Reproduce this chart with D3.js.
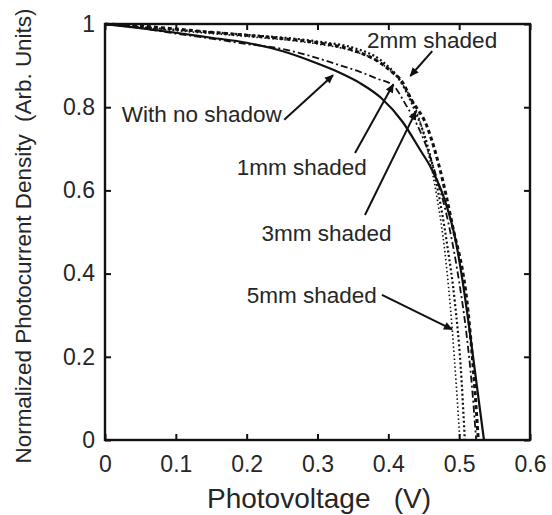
<!DOCTYPE html>
<html>
<head>
<meta charset="utf-8">
<script src="https://cdn.jsdelivr.net/npm/d3@7"></script>
<style>
  html, body { margin: 0; padding: 0; background: #ffffff; }
  svg { display: block; }
  text { font-family: "Liberation Sans", Arial, Helvetica, sans-serif; fill: #262626; }
</style>
</head>
<body>
<svg id="chart" width="552" height="515"></svg>
<script>
// Photovoltage (V) / normalized photocurrent density pairs for each shading case
const noShadow = [
  [0, 1], [0.05, 0.99], [0.1, 0.979], [0.15, 0.967], [0.2, 0.955], [0.25, 0.935],
  [0.3, 0.905], [0.33, 0.884], [0.36, 0.858], [0.39, 0.822], [0.42, 0.765],
  [0.445, 0.697], [0.46, 0.655], [0.48, 0.575], [0.495, 0.48], [0.505, 0.38],
  [0.515, 0.26], [0.525, 0.13], [0.535, 0]
];
const shaded1mm = [
  [0, 1], [0.05, 0.99], [0.1, 0.977], [0.15, 0.965], [0.2, 0.952], [0.25, 0.94],
  [0.3, 0.918], [0.333, 0.9], [0.36, 0.885], [0.385, 0.868], [0.407, 0.852],
  [0.425, 0.805], [0.44, 0.76], [0.455, 0.7], [0.47, 0.62], [0.485, 0.52],
  [0.5, 0.38], [0.51, 0.26], [0.518, 0.13], [0.524, 0]
];
const shaded2mm = [
  [0, 1], [0.05, 0.995], [0.1, 0.988], [0.15, 0.98], [0.2, 0.973], [0.25, 0.965],
  [0.3, 0.955], [0.35, 0.937], [0.39, 0.905], [0.405, 0.885], [0.42, 0.86],
  [0.432, 0.82], [0.455, 0.752], [0.473, 0.65], [0.49, 0.52], [0.5125, 0.31],
  [0.52, 0.17], [0.527, 0]
];
const shaded3mm = [
  [0, 1], [0.1, 0.986], [0.2, 0.974], [0.3, 0.958], [0.35, 0.943], [0.39, 0.912],
  [0.415, 0.868], [0.438, 0.79], [0.455, 0.71], [0.47, 0.6], [0.483, 0.47],
  [0.494, 0.33], [0.502, 0.18], [0.508, 0]
];
const shaded5mm = [
  [0, 1], [0.1, 0.984], [0.2, 0.97], [0.3, 0.952], [0.35, 0.935], [0.39, 0.905],
  [0.42, 0.855], [0.44, 0.79], [0.455, 0.7], [0.469, 0.58], [0.48, 0.45],
  [0.49, 0.27], [0.496, 0.13], [0.501, 0]
];

const xTicks = [0, 0.1, 0.2, 0.3, 0.4, 0.5, 0.6];
const xTickLabels = ["0", "0.1", "0.2", "0.3", "0.4", "0.5", "0.6"];
const yTicks = [0, 0.2, 0.4, 0.6, 0.8, 1];
const yTickLabels = ["0", "0.2", "0.4", "0.6", "0.8", "1"];

const seriesNames = ["With no shadow", "1mm shaded", "2mm shaded", "3mm shaded", "5mm shaded"];
const seriesData = [noShadow, shaded1mm, shaded2mm, shaded3mm, shaded5mm];

// Line styling per series
const styles = [
  { width: 2.2, dash: null },
  { width: 1.8, dash: "7,3,2,3" },
  { width: 3, dash: "4,3" },
  { width: 2.2, dash: "2,2.5" },
  { width: 1.6, dash: "1.5,2.5" }
];

// Annotation labels: text baseline start in data units, arrow from/to in data units
const annotations = [
  { series: 0, text: "With no shadow", at: [0.0235, 0.764], from: [0.253, 0.77], to: [0.322, 0.877] },
  { series: 2, text: "2mm shaded", at: [0.37, 0.942], from: [0.462, 0.935], to: [0.431, 0.875] },
  { series: 1, text: "1mm shaded", at: [0.186, 0.636], from: [0.353, 0.69], to: [0.407, 0.855] },
  { series: 3, text: "3mm shaded", at: [0.221, 0.478], from: [0.367, 0.541], to: [0.439, 0.79] },
  { series: 4, text: "5mm shaded", at: [0.2, 0.33], from: [0.391, 0.349], to: [0.49, 0.266] }
];

const svg = d3.select("#chart");
const x = d3.scaleLinear().domain([0, 0.6]).range([105, 530]);
const y = d3.scaleLinear().domain([0, 1]).range([440, 24]);

svg.append("defs").append("marker")
  .attr("id", "head")
  .attr("viewBox", "0 0 10 10")
  .attr("refX", 9).attr("refY", 5)
  .attr("markerWidth", 11).attr("markerHeight", 9)
  .attr("markerUnits", "userSpaceOnUse")
  .attr("orient", "auto")
  .append("path").attr("d", "M0,0.5 L10,5 L0,9.5 Z").attr("fill", "#111");

// Curves
const line = d3.line()
  .x(d => x(d[0]))
  .y(d => y(d[1]))
  .curve(d3.curveMonotoneX);

svg.append("g").selectAll("path")
  .data(seriesData)
  .join("path")
  .attr("d", line)
  .attr("fill", "none")
  .attr("stroke", "#111")
  .attr("stroke-width", (d, i) => styles[i].width)
  .attr("stroke-dasharray", (d, i) => styles[i].dash)
  .attr("stroke-linejoin", "round");

// Axes with inward ticks on all four sides
const tickLen = -6;
const fontTick = "23px";

const gBottom = svg.append("g").attr("transform", `translate(0,${y(0)})`)
  .call(d3.axisBottom(x).tickValues(xTicks).tickSize(tickLen).tickPadding(16)
    .tickFormat((d, i) => xTickLabels[i]));
const gLeft = svg.append("g").attr("transform", `translate(${x(0)},0)`)
  .call(d3.axisLeft(y).tickValues(yTicks).tickSize(tickLen).tickPadding(10)
    .tickFormat((d, i) => yTickLabels[i]));
const gTop = svg.append("g").attr("transform", `translate(0,${y(1)})`)
  .call(d3.axisTop(x).tickValues(xTicks).tickSize(tickLen).tickFormat(""));
const gRight = svg.append("g").attr("transform", `translate(${x(0.6)},0)`)
  .call(d3.axisRight(y).tickValues(yTicks).tickSize(tickLen).tickFormat(""));

[gBottom, gLeft, gTop, gRight].forEach(g => {
  g.select(".domain").remove();
  g.selectAll(".tick line").attr("stroke", "#111").attr("stroke-width", 2);
  g.selectAll(".tick text")
    .style("font-family", "'Liberation Sans', Arial, sans-serif")
    .style("font-size", fontTick)
    .attr("fill", "#333");
});

// Plot frame
svg.append("rect")
  .attr("x", x(0)).attr("y", y(1))
  .attr("width", x(0.6) - x(0)).attr("height", y(0) - y(1))
  .attr("fill", "none").attr("stroke", "#111").attr("stroke-width", 2.4);

// Annotations
const ann = svg.append("g");
annotations.forEach(a => {
  ann.append("line")
    .attr("x1", x(a.from[0])).attr("y1", y(a.from[1]))
    .attr("x2", x(a.to[0])).attr("y2", y(a.to[1]))
    .attr("stroke", "#111").attr("stroke-width", 2)
    .attr("marker-end", "url(#head)");
  ann.append("text")
    .attr("x", x(a.at[0])).attr("y", y(a.at[1]))
    .attr("font-size", "22.5px")
    .text(seriesNames[a.series]);
});

// Axis titles
svg.append("text")
  .attr("x", 207).attr("y", 508)
  .attr("font-size", "28px")
  .style("white-space", "pre")
  .text("Photovoltage   (V)");

svg.append("text")
  .attr("transform", "translate(31,236) rotate(-90)")
  .attr("text-anchor", "middle")
  .attr("font-size", "22px")
  .attr("textLength", 455)
  .attr("lengthAdjust", "spacingAndGlyphs")
  .style("white-space", "pre")
  .text("Normalized Photocurrent Density  (Arb. Units)");
</script>
</body>
</html>
